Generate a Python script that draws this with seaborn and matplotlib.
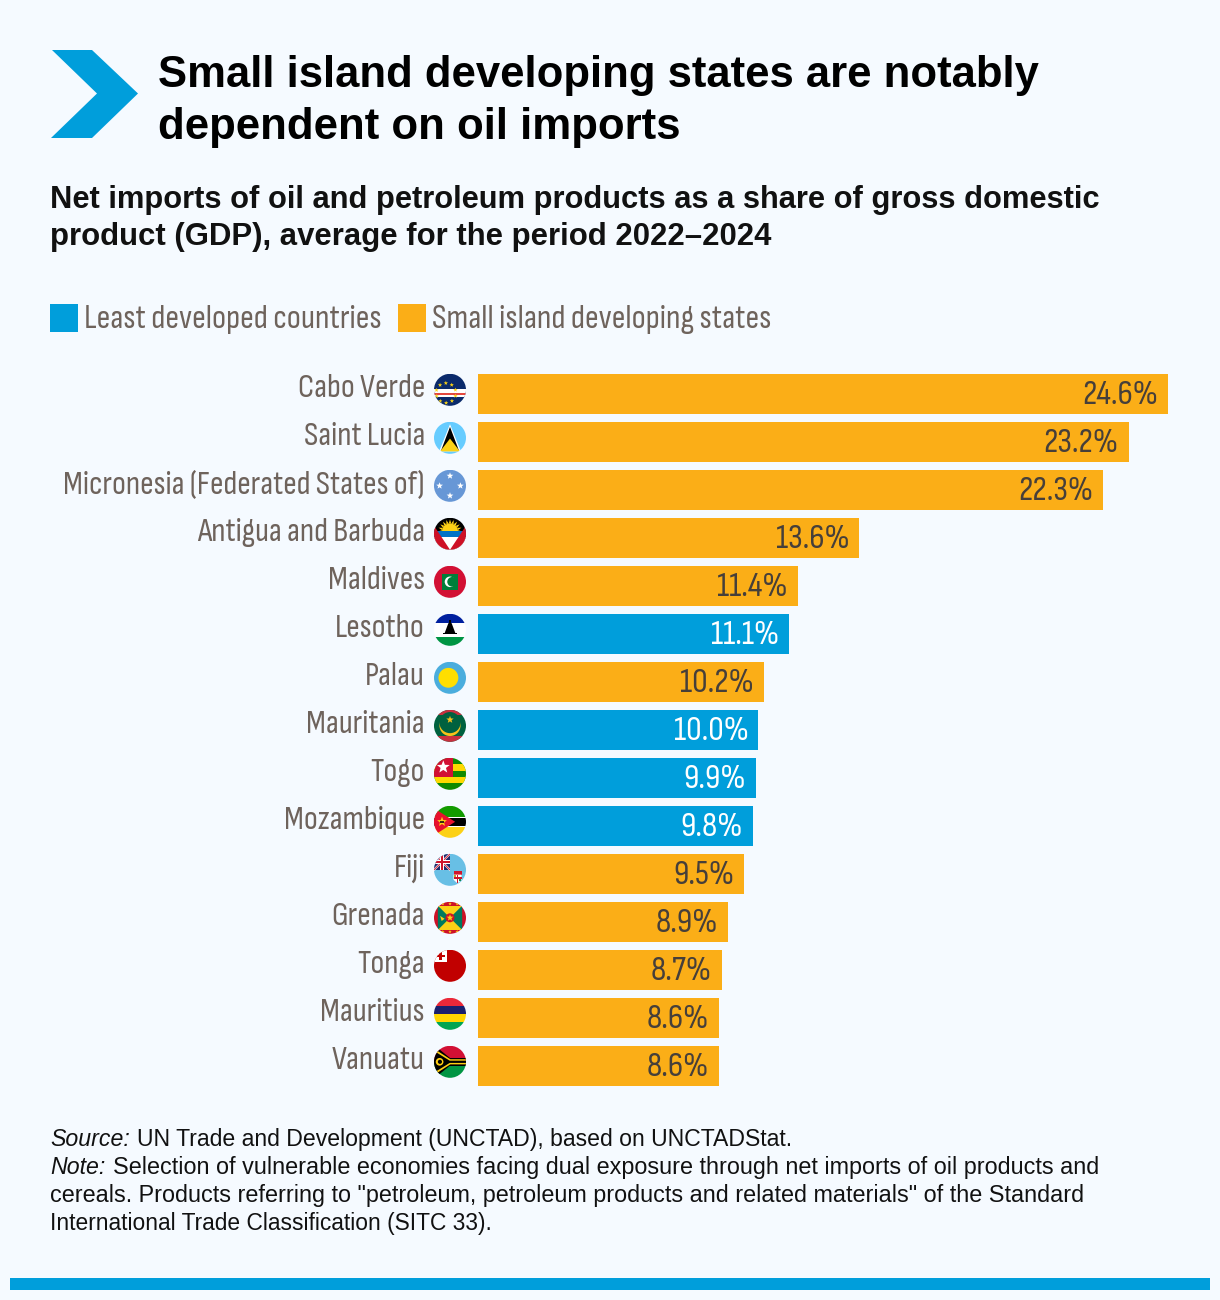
import numpy as np
import pandas as pd
import seaborn as sns
import matplotlib
matplotlib.use("Agg")
import matplotlib.pyplot as plt
from matplotlib.patches import Polygon, Circle, Rectangle
from matplotlib.transforms import Affine2D

countries = ["Cabo Verde", "Saint Lucia", "Micronesia (Federated States of)",
             "Antigua and Barbuda", "Maldives", "Lesotho", "Palau", "Mauritania",
             "Togo", "Mozambique", "Fiji", "Grenada", "Tonga", "Mauritius", "Vanuatu"]
shares = [24.6, 23.2, 22.3, 13.6, 11.4, 11.1, 10.2, 10.0, 9.9, 9.8, 9.5, 8.9, 8.7, 8.6, 8.6]
LDC = "Least developed countries"
SIDS = "Small island developing states"
groups = [SIDS, SIDS, SIDS, SIDS, SIDS, LDC, SIDS, LDC, LDC, LDC, SIDS, SIDS, SIDS, SIDS, SIDS]
flag_codes = ["cv", "lc", "fm", "ag", "mv", "ls", "pw", "mr", "tg", "mz", "fj", "gd", "to", "mu", "vu"]

BG = "#f5faff"
BLUE = "#009edb"
ORANGE = "#fbae17"
GREY = "#6e635c"
DARK = "#463f3a"
INK = "#111111"
NARROW = ["Sofia Sans Condensed", "Archivo Narrow", "Liberation Sans"]
BODY = ["Liberation Sans", "DejaVu Sans"]

W, H = 1220, 1300
sns.set_theme(style="white")
plt.rcParams["font.family"] = BODY
fig = plt.figure(figsize=(W / 100, H / 100), dpi=100, facecolor=BG)

def px_axes(left, top, right, bottom):
    return fig.add_axes([left / W, 1 - bottom / H, (right - left) / W, (bottom - top) / H])

# bar chart
ax = px_axes(478, 370, 1168, 1090)
ax.set_facecolor("none")
df = pd.DataFrame({"country": countries, "share": shares, "group": groups})
sns.barplot(data=df, x="share", y="country", hue="group", order=countries, dodge=False,
            palette={LDC: BLUE, SIDS: ORANGE}, saturation=1, width=40 / 48, legend=False,
            linewidth=0, edgecolor="none", ax=ax)
ax.set_xlim(0, 24.6)
ax.set_ylim(14.5, -0.5)
ax.set_xlabel("")
ax.set_ylabel("")
ax.set_xticks([])
ax.set_yticks([])
sns.despine(ax=ax, left=True, bottom=True, top=True, right=True)

PT = 0.72  # points per pixel at 100 dpi
for i, (name, val, grp) in enumerate(zip(countries, shares, groups)):
    ax.annotate(name, xy=(0, i), xytext=(-53 * PT, 5.5 * PT), textcoords="offset points",
                ha="right", va="center", family=NARROW, weight=200, fontsize=24, color=GREY)
    ax.annotate(f"{val:.1f}%", xy=(val, i), xytext=(-10 * PT, -1.5 * PT), textcoords="offset points",
                ha="right", va="center", family=NARROW, weight=200, fontsize=25,
                color="white" if grp == LDC else DARK)

# overlay in figure pixels for header, legend, flags and footer
ov = fig.add_axes([0, 0, 1, 1], facecolor="none")
ov.set_xlim(0, W)
ov.set_ylim(H, 0)
ov.axis("off")

ov.add_patch(Polygon([(52, 50), (92, 50), (138, 93.5), (92, 138), (51, 138), (97, 93.5)],
                     closed=True, fc=BLUE, ec="none"))
ov.text(158.5, 86.5, "Small island developing states are notably", fontsize=31.45, weight="bold",
        color="black", va="baseline")
ov.text(158.5, 138.5, "dependent on oil imports", fontsize=31.5, weight="bold", color="black", va="baseline")
ov.text(50, 208, "Net imports of oil and petroleum products as a share of gross domestic",
        fontsize=22.24, weight="bold", color=INK, va="baseline")
ov.text(50, 245, "product (GDP), average for the period 2022\u20132024",
        fontsize=22.4, weight="bold", color=INK, va="baseline")

# legend swatches and names
for x0, col, label in [(50, BLUE, LDC), (398, ORANGE, SIDS)]:
    ov.add_patch(Rectangle((x0, 304), 28, 28, fc=col, ec="none"))
    ov.text(x0 + 34, 319.5, label, family=NARROW, weight=200, fontsize=24.4, color=GREY, va="center")

def draw_flag(code, cx, cy, r=16):
    tr = Affine2D().scale(r).translate(cx, cy) + ov.transData
    clip = Circle((0, 0), 1, transform=tr)

    def add(p):
        p.set_transform(tr)
        p.set_clip_path(clip)
        p.set_edgecolor("none")
        ov.add_artist(p)

    def rect(x0, y0, x1, y1, c):
        add(Rectangle((x0, y0), x1 - x0, y1 - y0, fc=c))

    def poly(pts, c):
        add(Polygon(pts, closed=True, fc=c))

    def circ(x, y, rad, c):
        add(Circle((x, y), rad, fc=c))

    def star(x, y, rad, c, n=5, rot=0.0):
        ang = np.arange(2 * n) * np.pi / n - np.pi / 2 + rot
        radii = np.where(np.arange(2 * n) % 2 == 0, rad, rad * 0.42)
        poly(np.c_[x + radii * np.cos(ang), y + radii * np.sin(ang)], c)

    if code == "cv":
        rect(-1, -1, 1, 1, "#0a2a6b")
        rect(-1, -0.05, 1, 0.43, "white")
        rect(-1, 0.2, 1, 0.34, "#e4483f")
        for a in np.arange(10) * np.pi / 5 + 0.3:
            star(-0.25 + 0.62 * np.cos(a), 0.2 + 0.62 * np.sin(a), 0.14, "#f7d116")
    elif code == "lc":
        rect(-1, -1, 1, 1, "#66ccff")
        poly([(0, -0.85), (0.68, 0.85), (-0.68, 0.85)], "white")
        poly([(0, -0.68), (0.56, 0.8), (-0.56, 0.8)], "black")
        poly([(0, 0.05), (0.62, 0.85), (-0.62, 0.85)], "#fcd116")
    elif code == "fm":
        rect(-1, -1, 1, 1, "#6797d6")
        for x, y in [(0, -0.62), (-0.65, 0), (0.65, 0), (0, 0.62)]:
            star(x, y, 0.22, "white")
    elif code == "ag":
        rect(-1, -1, 1, 1, "black")
        circ(0, -0.15, 0.5, "#fcd116")
        for a in np.linspace(-np.pi, 0, 11):
            poly([(0.75 * np.cos(a), -0.15 + 0.75 * np.sin(a)),
                  (0.5 * np.cos(a + 0.15), -0.15 + 0.5 * np.sin(a + 0.15)),
                  (0.5 * np.cos(a - 0.15), -0.15 + 0.5 * np.sin(a - 0.15))], "#fcd116")
        rect(-1, -0.2, 1, 0.22, "#0072c6")
        rect(-1, 0.22, 1, 1, "white")
        poly([(-1.33, -1), (0, 1), (-1.33, 1)], "#ce1126")
        poly([(1.33, -1), (0, 1), (1.33, 1)], "#ce1126")
    elif code == "mv":
        rect(-1, -1, 1, 1, "#d21034")
        rect(-0.52, -0.5, 0.52, 0.5, "#007e3a")
        circ(0.0, 0, 0.33, "white")
        circ(0.13, 0, 0.3, "#007e3a")
    elif code == "ls":
        rect(-1, -1, 1, -0.45, "#00209f")
        rect(-1, -0.45, 1, 0.45, "white")
        rect(-1, 0.45, 1, 1, "#009543")
        poly([(-0.1, -0.42), (0.1, -0.42), (0.34, 0.22), (-0.34, 0.22)], "black")
        rect(-0.05, -0.6, 0.05, -0.38, "black")
        rect(-0.44, 0.18, 0.44, 0.28, "black")
    elif code == "pw":
        rect(-1, -1, 1, 1, "#4aaddd")
        circ(-0.1, 0, 0.62, "#ffde00")
    elif code == "mr":
        rect(-1, -1, 1, 1, "#00613f")
        rect(-1, -1, 1, -0.65, "#c8303f")
        rect(-1, 0.65, 1, 1, "#c8303f")
        circ(0, -0.02, 0.66, "#f6c21a")
        circ(0, -0.2, 0.66, "#00613f")
        star(0, -0.38, 0.24, "#f6c21a")
    elif code == "tg":
        rect(-1, -1, 1, 1, "#118a00")
        rect(-1, -0.6, 1, -0.2, "#ffd900")
        rect(-1, 0.2, 1, 0.6, "#ffd900")
        rect(-1, -1, 0.2, 0.2, "#d21034")
        star(-0.42, -0.42, 0.42, "white")
    elif code == "mz":
        rect(-1, -1, 1, -0.32, "#129b00")
        rect(-1, -0.32, 1, 0.32, "white")
        rect(-1, -0.25, 1, 0.25, "black")
        rect(-1, 0.32, 1, 1, "#fcd116")
        poly([(-1, -0.85), (0.32, 0), (-1, 0.85)], "#e8112d")
        star(-0.5, 0, 0.32, "#fcd116")
        rect(-0.6, -0.04, -0.4, 0.06, "#3a2a10")
    elif code == "fj":
        rect(-1, -1, 1, 1, "#68bfe5")
        rect(-1, -1, 0, 0, "#1f2a6b")
        for a, b, c, d in [(-1, -1, 0, 0), (-1, 0, 0, -1)]:
            poly([(a, b - 0.09), (c, d - 0.09), (c, d + 0.09), (a, b + 0.09)], "white")
            poly([(a, b - 0.04), (c, d - 0.04), (c, d + 0.04), (a, b + 0.04)], "#cf142b")
        rect(-0.62, -1, -0.38, 0, "white")
        rect(-1, -0.62, 0, -0.38, "white")
        rect(-0.56, -1, -0.44, 0, "#cf142b")
        rect(-1, -0.56, 0, -0.44, "#cf142b")
        rect(0.22, 0.06, 0.72, 0.34, "#cf142b")
        poly([(0.22, 0.3), (0.72, 0.3), (0.72, 0.62), (0.47, 0.85), (0.22, 0.62)], "white")
        rect(0.42, 0.3, 0.52, 0.82, "#cf142b")
        rect(0.22, 0.46, 0.72, 0.56, "#cf142b")
        rect(0.28, 0.34, 0.38, 0.44, "#c9a227")
        rect(0.56, 0.6, 0.66, 0.7, "#1e8a4a")
    elif code == "gd":
        rect(-1, -1, 1, 1, "#ce1126")
        rect(-0.76, -0.76, 0.76, 0.76, "#fcd116")
        poly([(-0.76, -0.76), (0, 0), (-0.76, 0.76)], "#007a5e")
        poly([(0.76, -0.76), (0, 0), (0.76, 0.76)], "#007a5e")
        circ(0, 0, 0.28, "#ce1126")
        star(0, 0, 0.22, "#fcd116")
        poly([(-0.62, -0.12), (-0.34, 0.06), (-0.52, 0.2)], "#fcd116")
        for x in (-0.45, 0, 0.45):
            star(x, -0.87, 0.11, "#fcd116")
            star(x, 0.87, 0.11, "#fcd116")
    elif code == "to":
        rect(-1, -1, 1, 1, "#c10000")
        rect(-1, -1, -0.17, -0.25, "white")
        rect(-0.66, -0.85, -0.48, -0.35, "#c10000")
        rect(-0.82, -0.7, -0.32, -0.53, "#c10000")
    elif code == "mu":
        rect(-1, -1, 1, -0.5, "#ea2839")
        rect(-1, -0.5, 1, 0, "#1a206d")
        rect(-1, 0, 1, 0.5, "#ffd500")
        rect(-1, 0.5, 1, 1, "#00a551")
    elif code == "vu":
        rect(-1, -1, 1, 0, "#d21034")
        rect(-1, 0, 1, 1, "#009543")
        rect(-0.2, -0.24, 1, 0.24, "black")
        poly([(-1, -1.05), (0.0, -0.24), (0.0, 0.24), (-1, 1.05)], "black")
        poly([(-1, -0.82), (0.02, -0.16), (1, -0.16), (1, -0.07), (-0.02, -0.07), (-1, -0.68)], "#fdce12")
        poly([(-1, 0.82), (0.02, 0.16), (1, 0.16), (1, 0.07), (-0.02, 0.07), (-1, 0.68)], "#fdce12")
        circ(-0.65, 0, 0.24, "#fdce12")
        circ(-0.63, 0, 0.13, "black")

row_px = (1090 - 370) / len(countries)
for i, code in enumerate(flag_codes):
    draw_flag(code, 450, 370 + (i + 0.5) * row_px - 4.2)

# source and note
note_size = 16.84
ov.text(50, 1146, "Source:", style="italic", fontsize=16.7, color=INK)
ov.text(137, 1146, "UN Trade and Development (UNCTAD), based on UNCTADStat.", fontsize=16.55, color=INK)
ov.text(50, 1174, "Note:", style="italic", fontsize=16.7, color=INK)
ov.text(113, 1174, "Selection of vulnerable economies facing dual exposure through net imports of oil products and",
        fontsize=note_size, color=INK)
ov.text(50, 1202, "cereals. Products referring to \"petroleum, petroleum products and related materials\" of the Standard",
        fontsize=note_size, color=INK)
ov.text(50, 1230, "International Trade Classification (SITC 33).", fontsize=16.4, color=INK)

# closing band
ov.add_patch(Rectangle((10, 1278), 1200, 12, fc=BLUE, ec="none"))

fig.savefig("out.png", dpi=100, facecolor=BG)
